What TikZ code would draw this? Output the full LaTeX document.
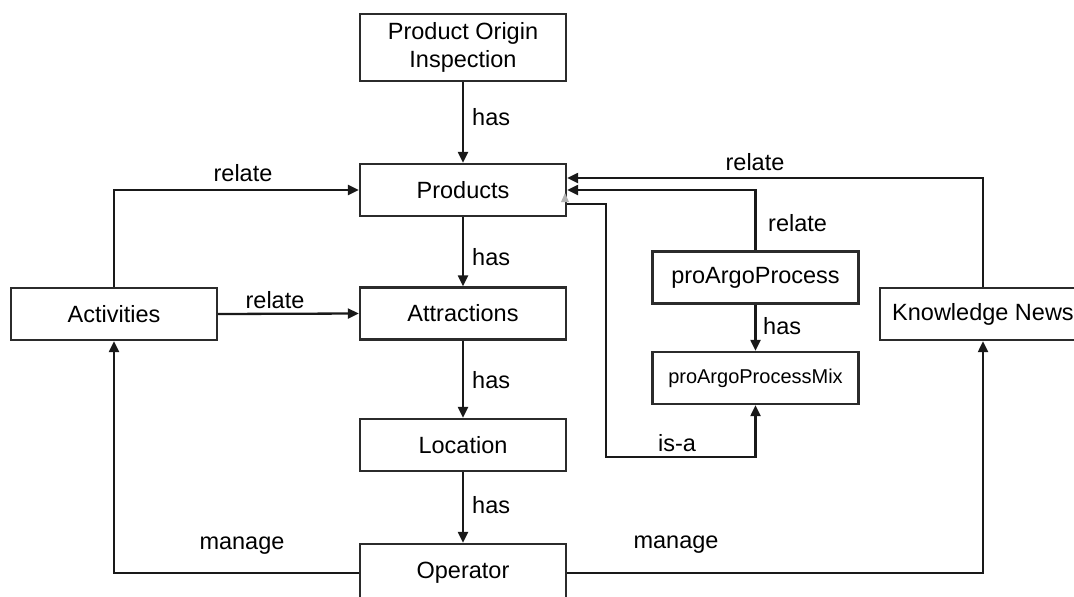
\documentclass[tikz,border=0pt]{standalone}
\usepackage{fontspec}
\setmainfont{Liberation Sans}
\usetikzlibrary{arrows.meta}
\definecolor{boxline}{HTML}{2B2B2B}
\tikzset{
  box/.style={draw=boxline, line width=2.4pt, minimum width=206pt, minimum height=52pt,
    inner sep=0pt, align=center, font=\fontsize{23.5}{28}\selectfont},
  conn/.style={draw=black!90, line width=2.3pt,
    -{Triangle[length=11pt,width=10pt]}},
  lbl/.style={inner sep=0pt, font=\fontsize{23.5}{28}\selectfont},
}
\begin{document}
\begin{tikzpicture}[x=1pt,y=-1pt]
\clip (0,0) rectangle (1074,597);
\fill[white] (0,0) rectangle (1074,597);
% nodes
\node[box, minimum height=67pt] (poi) at (463,47.5) {Product Origin\\Inspection};
\node[box] (prod) at (463,190) {Products};
\node[box] (attr) at (463,313.5) {Attractions};
\node[box] (loc) at (463,445) {Location};
\node[box, minimum height=58pt] (op) at (463,573) {Operator};
\node[box] (act) at (114,314) {Activities};
\node[box] (pap) at (755.5,277.5) {proArgoProcess};
\node[box, font=\fontsize{20}{24}\selectfont] (mix) at (755.5,378) {proArgoProcessMix};
\node[box] (kn) at (983,314) {Knowledge News};
\coordinate (isa) at (606,457);
% connectors
\draw[conn] (poi.south) -- (prod.north);
\draw[conn] (prod.south) -- (attr.north);
\draw[conn] (attr.south) -- (loc.north);
\draw[conn] (loc.south) -- (op.north);
\draw[conn] (act.north) |- (prod.west);
\draw[conn] (act.east) -- (attr.west);
\draw[conn] (op.west) -| (act.south);
\draw[conn] (op.east) -| (kn.south);
\draw[conn] (kn.north) |- ([yshift=12pt]prod.east);
\draw[conn] (pap.north) |- (prod.east);
\draw[conn] (pap.south) -- (mix.north);
\draw[conn] ([yshift=-14pt]prod.east) -| (isa) -| (mix.south);
\fill[gray!60] (561,202) -- (569,202) -- (565,193) -- cycle;
% labels
\node[lbl, anchor=west] (l1) at (472,117) {has};
\node[lbl, anchor=west] (l2) at (472,257) {has};
\node[lbl, anchor=west] (l3) at (472,380) {has};
\node[lbl, anchor=west] (l4) at (472,505) {has};
\node[lbl] (l5) at (243,173) {relate};
\node[lbl] (l6) at (275,300) {relate};
\node[lbl] (l7) at (755,162) {relate};
\node[lbl, anchor=west] (l8) at (768,223) {relate};
\node[lbl, anchor=west] (l9) at (763,326) {has};
\node[lbl] (l10) at (677,443) {is-a};
\node[lbl] (l11) at (242,546) {manage};
\node[lbl] (l12) at (676,545) {manage};
\end{tikzpicture}
\end{document}
